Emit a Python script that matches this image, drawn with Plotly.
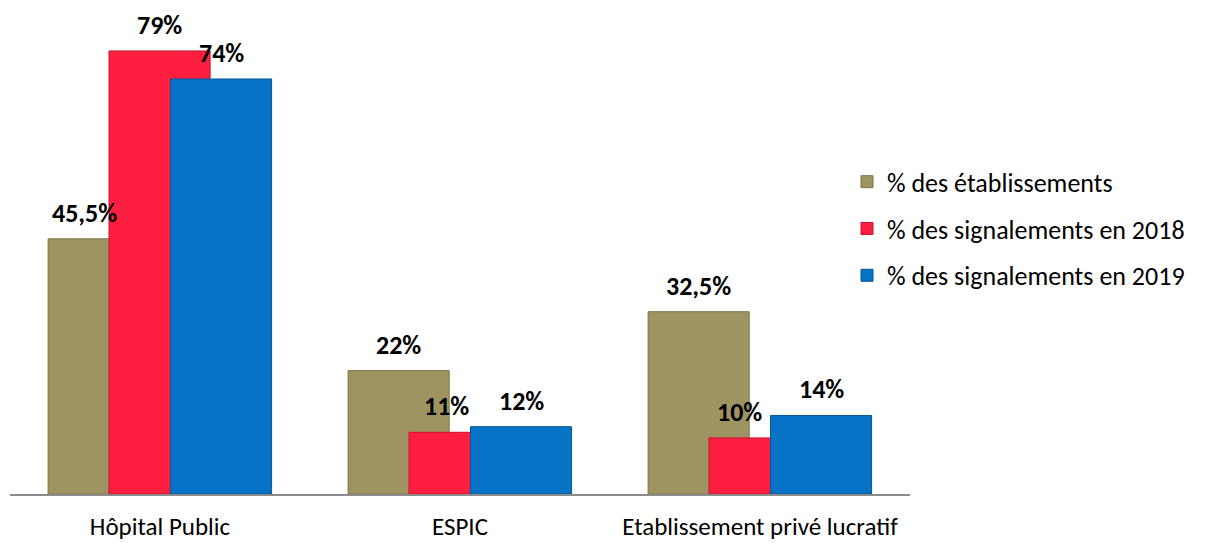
import plotly.graph_objects as go

categories = ["Hôpital Public", "ESPIC", "Etablissement privé lucratif"]
series_names = ["% des établissements", "% des signalements en 2018", "% des signalements en 2019"]
etablissements = [45.5, 22, 32.5]
signalements_2018 = [79, 11, 10]
signalements_2019 = [74, 12, 14]

series_values = [etablissements, signalements_2018, signalements_2019]

# styling
colors = ["#9E9462", "#FE1F40", "#0673C6"]
edge_colors = ["#7D7447", "#C8102C", "#04589A"]
offsets = [-0.373, -0.17, 0.035]
bar_width = 0.337
label_xshift = [[-14, 0, 0], [0, -13, -20], [0, 0, 0]]
FONT = "Carlito, Lato, 'Open Sans', sans-serif"

x_pos = list(range(len(categories)))
fig = go.Figure()
for i, (name, vals) in enumerate(zip(series_names, series_values)):
    fig.add_trace(go.Bar(
        x=x_pos, y=vals, name=name,
        width=bar_width, offset=offsets[i],
        marker=dict(color=colors[i], line=dict(color=edge_colors[i], width=1)),
        legendgroup=f"g{i}", hoverinfo="y",
    ))
    for j, v in enumerate(vals):
        txt = f"{v:g}".replace(".", ",") + "%"
        fig.add_annotation(
            x=x_pos[j] + offsets[i] + bar_width / 2, y=v, text=f"<b>{txt}</b>",
            showarrow=False, yanchor="middle", yshift=26, xshift=label_xshift[i][j],
            font=dict(family=FONT, size=26, color="#000000"),
        )

fig.update_layout(
    width=1205, height=543,
    margin=dict(l=10, r=295, t=10, b=49, autoexpand=False),
    barmode="overlay",
    paper_bgcolor="white", plot_bgcolor="white",
    font=dict(family=FONT, size=24, color="#000000"),
    showlegend=True,
    legend=dict(x=0.93, xanchor="left", y=0.548, yanchor="middle",
                font=dict(family=FONT, size=26, color="#000000"),
                tracegroupgap=10, itemwidth=30, bgcolor="rgba(0,0,0,0)"),
    xaxis=dict(range=[-0.5, 2.5], tickmode="array", tickvals=x_pos, ticktext=categories,
               showline=True, linecolor="#8C8C8C", linewidth=1.5, showgrid=False,
               zeroline=False, ticks="", ticklabelstandoff=9, automargin=False,
               tickfont=dict(family=FONT, size=25, color="#000000")),
    yaxis=dict(range=[0, 86.3], visible=False, showgrid=False, zeroline=False,
               automargin=False),
)

fig.write_html("out.html")
